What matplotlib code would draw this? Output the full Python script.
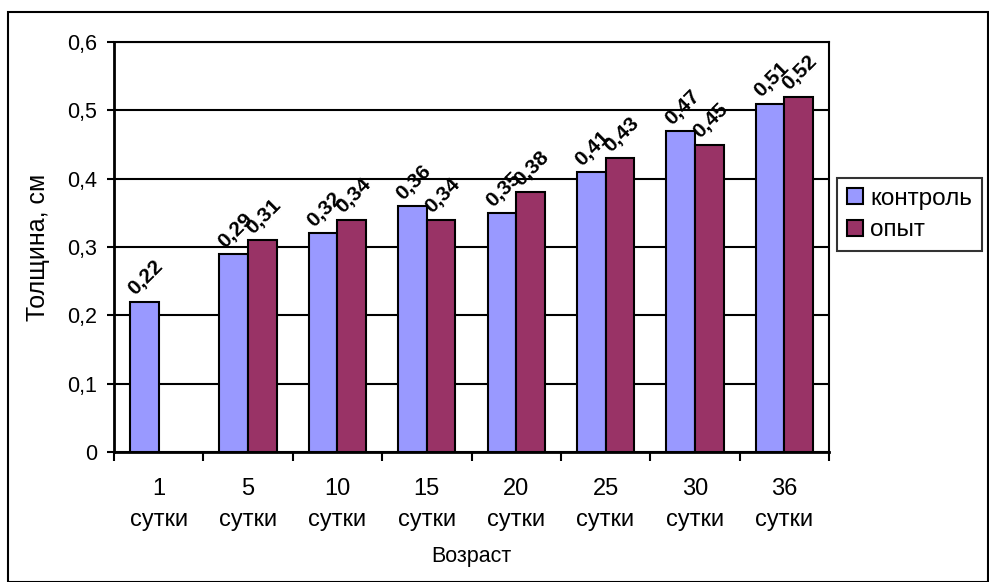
import numpy as np
import matplotlib
matplotlib.use("Agg")
import matplotlib.pyplot as plt
from matplotlib.patches import Rectangle

plt.rcParams['font.family'] = ['Liberation Sans', 'DejaVu Sans']

# толщина по возрасту
days = ['1', '5', '10', '15', '20', '25', '30', '36']
control = [0.22, 0.29, 0.32, 0.36, 0.35, 0.41, 0.47, 0.51]
experiment = [np.nan, 0.31, 0.34, 0.34, 0.38, 0.43, 0.45, 0.52]
yticks = [0, 0.1, 0.2, 0.3, 0.4, 0.5, 0.6]

fig = plt.figure(figsize=(9.89, 5.82), dpi=100)
ax = fig.add_axes([0.1153, 0.2234, 0.7229, 0.7044])

x = np.arange(len(days))
w = 0.32
ax.bar(x - w / 2, control, w, color='#9999FF', edgecolor='black', linewidth=1.5, label='контроль', zorder=3)
ax.bar(x + w / 2, experiment, w, color='#993366', edgecolor='black', linewidth=1.5, label='опыт', zorder=3)

def fmt(v):
    return ('%.2f' % v).replace('.', ',')

for xs, vals in [(x - w / 2, control), (x + w / 2, experiment)]:
    for xi, v in zip(xs, vals):
        if np.isnan(v):
            continue
        ax.annotate(fmt(v), (xi, v), xytext=(1, 17), textcoords='offset points',
                    rotation=45, rotation_mode='anchor', ha='center', va='center',
                    fontsize=15, fontweight='bold', zorder=4)

ax.set_xlim(-0.5, len(days) - 0.5)
ax.set_ylim(0, 0.6)
ax.set_yticks(yticks)
ax.set_yticklabels([('%g' % t).replace('.', ',') for t in yticks], fontsize=15.5)
ax.yaxis.grid(True, color='black', linewidth=1.5, zorder=0)

# засечки между категориями, подписи по центру
ax.set_xticks(np.arange(len(days) + 1) - 0.5)
ax.set_xticklabels([])
ax.set_xticks(x, minor=True)
ax.set_xticklabels([d + '\nсутки' for d in days], minor=True, fontsize=17, linespacing=1.5)
ax.tick_params(axis='x', which='minor', length=0, pad=19)
ax.tick_params(axis='x', which='major', length=6.5, width=1.5, direction='out')
ax.tick_params(axis='y', length=5, width=1.5, direction='out', pad=7)

for side in ['left', 'bottom']:
    ax.spines[side].set_linewidth(2)
for side in ['right', 'top']:
    ax.spines[side].set_linewidth(1.5)

ax.set_ylabel('Толщина, см', fontsize=18, va='center')
ax.yaxis.set_label_coords(-0.106, 0.5)
ax.set_xlabel('Возраст', fontsize=15.5, va='center')
ax.xaxis.set_label_coords(0.5, -0.256)

leg = fig.legend(loc='upper left', bbox_to_anchor=(837 / 989, 1 - 178 / 582), fontsize=17.5,
                 frameon=True, fancybox=False, edgecolor='black',
                 handlelength=0.66, handleheight=0.66, handletextpad=0.3,
                 borderpad=0.4, labelspacing=0.4, borderaxespad=0)
leg.get_frame().set_linewidth(1.5)

fig.patches.append(Rectangle((8 / 989, 0), 1 - 8 / 989 - 0.001, 1 - 12 / 582,
                             transform=fig.transFigure, fill=False,
                             edgecolor='black', linewidth=1.5))

fig.savefig('out.png', dpi=100)
